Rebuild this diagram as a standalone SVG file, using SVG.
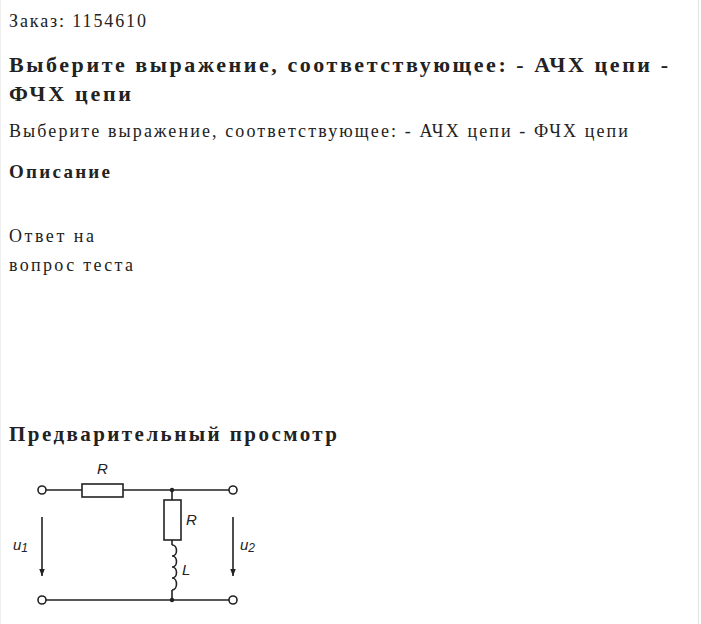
<svg xmlns="http://www.w3.org/2000/svg" width="701" height="624" viewBox="0 0 701 624">
<style>
.t{font-family:"Liberation Serif","DejaVu Serif",serif;fill:#222}
.b{font-weight:bold}
.w{stroke:#222;stroke-width:1.6;fill:none}
.c{fill:#fff;stroke:#222;stroke-width:1.6}
.l{font-family:"Liberation Sans",sans-serif;font-style:italic;font-size:15px;fill:#222}
</style>
<defs><marker id="a" markerWidth="8" markerHeight="10" refX="4" refY="10" orient="auto" markerUnits="userSpaceOnUse"><path d="M0,0 L8,0 L4,10 Z" transform="rotate(-90 4 5)" fill="#222"/></marker>
<marker id="ar" viewBox="0 0 10 10" refX="10" refY="5" markerWidth="7" markerHeight="10" orient="auto" markerUnits="userSpaceOnUse"><path d="M0,1 L10,5 L0,9 Z" fill="#222"/></marker></defs>
<rect x="0" y="0" width="701" height="624" fill="#fff"/>
<line x1="698.5" y1="0" x2="698.5" y2="624" stroke="#e4e4e4"/>
<line x1="0.5" y1="0" x2="0.5" y2="624" stroke="#eee"/>
<text class="t" x="9" y="27" font-size="18" textLength="137">Заказ: 1154610</text>
<text class="t b" x="9" y="72" font-size="22" textLength="659">Выберите выражение, соответствующее: - АЧХ цепи -</text>
<text class="t b" x="9" y="101" font-size="22" textLength="122">ФЧХ цепи</text>
<text class="t" x="9" y="137" font-size="18" textLength="619">Выберите выражение, соответствующее: - АЧХ цепи - ФЧХ цепи</text>
<text class="t b" x="9" y="178" font-size="19" textLength="101">Описание</text>
<text class="t" x="9" y="242" font-size="18" textLength="85">Ответ на</text>
<text class="t" x="9" y="271" font-size="18" textLength="124">вопрос теста</text>
<text class="t b" x="9" y="441" font-size="21" textLength="328">Предварительный просмотр</text>
<g id="connectors">
<path class="w" d="M46,490 H82 M123,490 H229 M172,490 V500 M172,540 V545 M172,590 V600 M46,600 H229"/>
<path class="w" d="M172,545 c6,0 6,11 0,11 c6,0 6,11 0,11 c6,0 6,11 0,11 c6,0 6,12 0,12"/>
<line class="w" x1="42" y1="517" x2="42" y2="576" marker-end="url(#ar)"/>
<line class="w" x1="233" y1="517" x2="233" y2="576" marker-end="url(#ar)"/>
<circle cx="172" cy="490" r="2.2" fill="#222"/>
<circle cx="172" cy="600" r="2.2" fill="#222"/>
</g>
<g id="R1"><rect class="c" x="82" y="484" width="41" height="13"/><text class="l" x="97" y="474">R</text></g>
<g id="R2"><rect class="c" x="164" y="500" width="17" height="40"/><text class="l" x="186" y="525">R</text></g>
<g id="L"><text class="l" x="182" y="575">L</text></g>
<g id="t1"><circle class="c" cx="42" cy="490" r="4"/></g>
<g id="t2"><circle class="c" cx="233" cy="490" r="4"/></g>
<g id="t3"><circle class="c" cx="42" cy="600" r="4"/></g>
<g id="t4"><circle class="c" cx="233" cy="600" r="4"/></g>
<g id="u1"><text class="l" x="13" y="550" font-style="italic">u<tspan font-size="12" dy="2">1</tspan></text></g>
<g id="u2"><text class="l" x="240" y="550">u<tspan font-size="12" dy="2">2</tspan></text></g>
</svg>
